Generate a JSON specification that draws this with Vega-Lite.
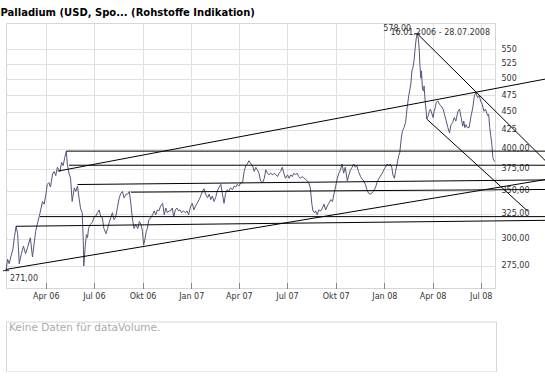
{
  "$schema": "https://vega.github.io/schema/vega-lite/v6.json",
  "padding": {"left": 0, "top": 7, "right": 0, "bottom": 0},
  "autosize": {"type": "pad"},
  "background": "#ffffff",
  "title": {"text": "Palladium (USD, Spo... (Rohstoffe Indikation)", "anchor": "start", "font": "DejaVu Sans", "fontSize": 10, "fontWeight": "bold", "color": "#000000", "offset": 5, "dx": -2},
  "config": {
    "font": "DejaVu Sans",
    "view": {"stroke": "#d6d6d6"},
    "axis": {"labelFont": "DejaVu Sans", "labelFontSize": 8, "labelColor": "#333333", "gridColor": "#e0e0e0", "domain": false, "title": null}
  },
  "datasets": {
    "price": [
      {"d":"2006-01-16","v":271},{"d":"2006-01-19","v":281},{"d":"2006-01-22","v":277},{"d":"2006-01-25","v":283},{"d":"2006-01-29","v":290},{"d":"2006-02-01","v":302},{"d":"2006-02-04","v":312},{"d":"2006-02-07","v":305},{"d":"2006-02-10","v":277},{"d":"2006-02-14","v":286},{"d":"2006-02-18","v":293},{"d":"2006-02-22","v":286},{"d":"2006-02-26","v":292},{"d":"2006-03-03","v":301},{"d":"2006-03-07","v":283},{"d":"2006-03-10","v":295},{"d":"2006-03-13","v":307},{"d":"2006-03-16","v":314},{"d":"2006-03-21","v":325},{"d":"2006-03-26","v":338},{"d":"2006-03-29","v":335},
      {"d":"2006-04-01","v":344},{"d":"2006-04-04","v":357},{"d":"2006-04-07","v":359},{"d":"2006-04-10","v":354},{"d":"2006-04-14","v":369},{"d":"2006-04-17","v":372},{"d":"2006-04-20","v":367},{"d":"2006-04-23","v":377},{"d":"2006-04-28","v":372},{"d":"2006-05-01","v":383},{"d":"2006-05-04","v":379},{"d":"2006-05-07","v":389},{"d":"2006-05-10","v":397},{"d":"2006-05-12","v":380},{"d":"2006-05-15","v":370},{"d":"2006-05-18","v":364},{"d":"2006-05-21","v":338},{"d":"2006-05-25","v":353},{"d":"2006-05-28","v":349},{"d":"2006-05-31","v":355},
      {"d":"2006-06-03","v":342},{"d":"2006-06-06","v":330},{"d":"2006-06-09","v":326},{"d":"2006-06-11","v":298},{"d":"2006-06-12","v":275},{"d":"2006-06-15","v":295},{"d":"2006-06-17","v":304},{"d":"2006-06-19","v":301},{"d":"2006-06-21","v":310},{"d":"2006-06-24","v":314},{"d":"2006-06-28","v":316},{"d":"2006-07-01","v":321},{"d":"2006-07-04","v":322},{"d":"2006-07-08","v":326},{"d":"2006-07-11","v":329},{"d":"2006-07-14","v":322},{"d":"2006-07-17","v":321},{"d":"2006-07-20","v":310},{"d":"2006-07-24","v":305},{"d":"2006-07-27","v":310},{"d":"2006-07-30","v":316},
      {"d":"2006-08-02","v":321},{"d":"2006-08-05","v":326},{"d":"2006-08-08","v":319},{"d":"2006-08-11","v":321},{"d":"2006-08-15","v":333},{"d":"2006-08-18","v":342},{"d":"2006-08-21","v":347},{"d":"2006-08-24","v":349},{"d":"2006-08-27","v":342},{"d":"2006-08-31","v":346},{"d":"2006-09-03","v":346},{"d":"2006-09-06","v":349},{"d":"2006-09-09","v":335},{"d":"2006-09-11","v":324},{"d":"2006-09-13","v":316},{"d":"2006-09-15","v":310},{"d":"2006-09-18","v":314},{"d":"2006-09-22","v":310},{"d":"2006-09-25","v":317},{"d":"2006-09-28","v":314},
      {"d":"2006-10-01","v":307},{"d":"2006-10-03","v":294},{"d":"2006-10-05","v":298},{"d":"2006-10-08","v":307},{"d":"2006-10-10","v":310},{"d":"2006-10-13","v":319},{"d":"2006-10-17","v":321},{"d":"2006-10-20","v":324},{"d":"2006-10-23","v":328},{"d":"2006-10-26","v":324},{"d":"2006-10-29","v":329},{"d":"2006-11-01","v":328},{"d":"2006-11-04","v":333},{"d":"2006-11-08","v":336},{"d":"2006-11-11","v":324},{"d":"2006-11-14","v":331},{"d":"2006-11-17","v":326},{"d":"2006-11-20","v":328},{"d":"2006-11-23","v":328},{"d":"2006-11-26","v":331},{"d":"2006-11-29","v":322},
      {"d":"2006-12-02","v":329},{"d":"2006-12-05","v":331},{"d":"2006-12-08","v":328},{"d":"2006-12-11","v":329},{"d":"2006-12-14","v":326},{"d":"2006-12-17","v":328},{"d":"2006-12-21","v":326},{"d":"2006-12-24","v":328},{"d":"2006-12-27","v":324},{"d":"2006-12-31","v":333},{"d":"2007-01-03","v":336},{"d":"2007-01-06","v":329},{"d":"2007-01-09","v":333},{"d":"2007-01-12","v":336},{"d":"2007-01-16","v":340},{"d":"2007-01-19","v":344},{"d":"2007-01-22","v":349},{"d":"2007-01-25","v":352},{"d":"2007-01-28","v":346},
      {"d":"2007-02-01","v":342},{"d":"2007-02-04","v":346},{"d":"2007-02-07","v":340},{"d":"2007-02-10","v":344},{"d":"2007-02-13","v":338},{"d":"2007-02-16","v":342},{"d":"2007-02-19","v":349},{"d":"2007-02-22","v":353},{"d":"2007-02-26","v":357},{"d":"2007-03-01","v":346},{"d":"2007-03-04","v":336},{"d":"2007-03-07","v":347},{"d":"2007-03-10","v":351},{"d":"2007-03-13","v":349},{"d":"2007-03-16","v":353},{"d":"2007-03-20","v":351},{"d":"2007-03-23","v":355},{"d":"2007-03-26","v":354},{"d":"2007-03-29","v":357},
      {"d":"2007-04-01","v":355},{"d":"2007-04-05","v":359},{"d":"2007-04-08","v":359},{"d":"2007-04-11","v":372},{"d":"2007-04-14","v":379},{"d":"2007-04-17","v":381},{"d":"2007-04-20","v":385},{"d":"2007-04-24","v":381},{"d":"2007-04-27","v":379},{"d":"2007-04-30","v":372},{"d":"2007-05-03","v":377},{"d":"2007-05-06","v":374},{"d":"2007-05-09","v":370},{"d":"2007-05-12","v":361},{"d":"2007-05-16","v":359},{"d":"2007-05-19","v":364},{"d":"2007-05-22","v":374},{"d":"2007-05-25","v":370},{"d":"2007-05-28","v":368},{"d":"2007-05-31","v":370},
      {"d":"2007-06-04","v":368},{"d":"2007-06-07","v":370},{"d":"2007-06-10","v":368},{"d":"2007-06-13","v":366},{"d":"2007-06-16","v":370},{"d":"2007-06-19","v":372},{"d":"2007-06-22","v":377},{"d":"2007-06-25","v":370},{"d":"2007-06-28","v":364},{"d":"2007-07-02","v":368},{"d":"2007-07-05","v":364},{"d":"2007-07-08","v":368},{"d":"2007-07-11","v":366},{"d":"2007-07-14","v":370},{"d":"2007-07-17","v":368},{"d":"2007-07-20","v":370},{"d":"2007-07-23","v":366},{"d":"2007-07-26","v":364},{"d":"2007-07-30","v":366},
      {"d":"2007-08-02","v":364},{"d":"2007-08-05","v":363},{"d":"2007-08-08","v":361},{"d":"2007-08-11","v":359},{"d":"2007-08-14","v":353},{"d":"2007-08-17","v":335},{"d":"2007-08-19","v":328},{"d":"2007-08-22","v":326},{"d":"2007-08-24","v":328},{"d":"2007-08-27","v":324},{"d":"2007-08-30","v":329},{"d":"2007-09-03","v":328},{"d":"2007-09-06","v":331},{"d":"2007-09-09","v":335},{"d":"2007-09-12","v":329},{"d":"2007-09-15","v":333},{"d":"2007-09-18","v":336},{"d":"2007-09-22","v":340},{"d":"2007-09-25","v":338},{"d":"2007-09-28","v":347},
      {"d":"2007-10-01","v":355},{"d":"2007-10-04","v":364},{"d":"2007-10-07","v":370},{"d":"2007-10-10","v":374},{"d":"2007-10-13","v":381},{"d":"2007-10-16","v":370},{"d":"2007-10-19","v":377},{"d":"2007-10-23","v":361},{"d":"2007-10-26","v":368},{"d":"2007-10-29","v":374},{"d":"2007-11-01","v":377},{"d":"2007-11-04","v":381},{"d":"2007-11-07","v":377},{"d":"2007-11-10","v":379},{"d":"2007-11-13","v":372},{"d":"2007-11-17","v":366},{"d":"2007-11-20","v":363},{"d":"2007-11-23","v":361},{"d":"2007-11-26","v":357},{"d":"2007-11-29","v":351},
      {"d":"2007-12-02","v":347},{"d":"2007-12-05","v":346},{"d":"2007-12-08","v":347},{"d":"2007-12-11","v":349},{"d":"2007-12-15","v":353},{"d":"2007-12-18","v":359},{"d":"2007-12-21","v":363},{"d":"2007-12-24","v":366},{"d":"2007-12-28","v":370},{"d":"2007-12-31","v":374},{"d":"2008-01-03","v":377},{"d":"2008-01-06","v":381},{"d":"2008-01-09","v":379},{"d":"2008-01-12","v":381},{"d":"2008-01-15","v":377},{"d":"2008-01-17","v":368},{"d":"2008-01-20","v":364},{"d":"2008-01-22","v":372},{"d":"2008-01-25","v":381},{"d":"2008-01-28","v":391},{"d":"2008-01-30","v":395},
      {"d":"2008-02-02","v":414},{"d":"2008-02-04","v":423},{"d":"2008-02-07","v":428},{"d":"2008-02-10","v":435},{"d":"2008-02-13","v":456},{"d":"2008-02-16","v":474},{"d":"2008-02-20","v":492},{"d":"2008-02-22","v":513},{"d":"2008-02-24","v":519},{"d":"2008-02-26","v":530},{"d":"2008-02-28","v":550},{"d":"2008-03-01","v":568},{"d":"2008-03-03","v":578},{"d":"2008-03-05","v":570},{"d":"2008-03-07","v":547},{"d":"2008-03-08","v":524},{"d":"2008-03-10","v":501},{"d":"2008-03-11","v":513},{"d":"2008-03-13","v":484},{"d":"2008-03-15","v":481},{"d":"2008-03-16","v":489},{"d":"2008-03-18","v":466},{"d":"2008-03-20","v":451},{"d":"2008-03-21","v":440},{"d":"2008-03-24","v":445},{"d":"2008-03-26","v":451},{"d":"2008-03-28","v":454},{"d":"2008-03-31","v":447},
      {"d":"2008-04-02","v":442},{"d":"2008-04-04","v":451},{"d":"2008-04-06","v":456},{"d":"2008-04-08","v":464},{"d":"2008-04-11","v":466},{"d":"2008-04-14","v":461},{"d":"2008-04-17","v":459},{"d":"2008-04-21","v":454},{"d":"2008-04-24","v":445},{"d":"2008-04-27","v":437},{"d":"2008-04-30","v":428},{"d":"2008-05-03","v":421},{"d":"2008-05-06","v":432},{"d":"2008-05-09","v":435},{"d":"2008-05-12","v":442},{"d":"2008-05-15","v":437},{"d":"2008-05-19","v":451},{"d":"2008-05-22","v":454},{"d":"2008-05-25","v":442},{"d":"2008-05-28","v":430},{"d":"2008-05-30","v":437},
      {"d":"2008-06-01","v":428},{"d":"2008-06-03","v":432},{"d":"2008-06-06","v":428},{"d":"2008-06-09","v":428},{"d":"2008-06-13","v":445},{"d":"2008-06-16","v":456},{"d":"2008-06-19","v":474},{"d":"2008-06-22","v":479},{"d":"2008-06-25","v":471},{"d":"2008-06-28","v":474},{"d":"2008-07-01","v":466},{"d":"2008-07-04","v":461},{"d":"2008-07-07","v":451},{"d":"2008-07-10","v":454},{"d":"2008-07-14","v":445},{"d":"2008-07-16","v":447},{"d":"2008-07-18","v":428},{"d":"2008-07-20","v":417},{"d":"2008-07-22","v":406},{"d":"2008-07-24","v":389},{"d":"2008-07-26","v":385},{"d":"2008-07-28","v":384}
    ],
    "trend": [
      {"id":"A","d":"2006-04-24","v":372.4},{"id":"A","d":"2008-11-01","v":500},
      {"id":"B","d":"2006-01-16","v":272},{"id":"B","d":"2008-11-01","v":362.6},
      {"id":"C","d":"2006-05-10","v":397},{"id":"C","d":"2008-11-01","v":397},
      {"id":"D","d":"2006-05-15","v":379.5},{"id":"D","d":"2008-11-01","v":379.5},
      {"id":"E","d":"2006-05-31","v":356.8},{"id":"E","d":"2008-11-01","v":362.1},
      {"id":"F","d":"2006-09-09","v":348.2},{"id":"F","d":"2008-11-01","v":351.2},
      {"id":"G","d":"2006-03-21","v":322},{"id":"G","d":"2008-11-01","v":322},
      {"id":"H","d":"2006-02-04","v":312.2},{"id":"H","d":"2008-11-01","v":318.2},
      {"id":"I","d":"2008-03-03","v":578},{"id":"I","d":"2008-11-01","v":384.5},
      {"id":"J","d":"2008-03-21","v":439.9},{"id":"J","d":"2008-09-28","v":327.6}
    ],
    "extremes": [
      {"kind":"max","d":"2008-03-03","v":578,"label":"578,00"},
      {"kind":"min","d":"2006-01-16","v":271,"label":"271,00"}
    ],
    "volume": [
      {"msg": "Keine Daten für dataVolume."}
    ]
  },
  "vconcat": [
    {
      "width": 489,
      "height": 265,
      "title": {"text": "16.01.2006 - 28.07.2008", "anchor": "end", "frame": "group", "offset": -14, "dx": -5, "font": "DejaVu Sans", "fontSize": 8, "fontWeight": "normal", "color": "#333333"},
      "encoding": {
        "x": {
          "field": "d", "type": "temporal",
          "scale": {"type": "utc", "domain": [{"year": 2006, "month": 1, "date": 16, "utc": true}, {"year": 2008, "month": 7, "date": 28, "utc": true}], "nice": false},
          "axis": {
            "orient": "bottom", "grid": true, "ticks": true, "tickSize": -5, "tickColor": "#333333", "tickDash": [1, 1], "labelPadding": 9,
            "values": [
              {"year": 2006, "month": 4, "date": 1, "utc": true}, {"year": 2006, "month": 7, "date": 1, "utc": true}, {"year": 2006, "month": 10, "date": 1, "utc": true},
              {"year": 2007, "month": 1, "date": 1, "utc": true}, {"year": 2007, "month": 4, "date": 1, "utc": true}, {"year": 2007, "month": 7, "date": 1, "utc": true}, {"year": 2007, "month": 10, "date": 1, "utc": true},
              {"year": 2008, "month": 1, "date": 1, "utc": true}, {"year": 2008, "month": 4, "date": 1, "utc": true}, {"year": 2008, "month": 7, "date": 1, "utc": true}
            ],
            "labelExpr": "(utcmonth(datum.value) == 0 ? 'Jan' : utcmonth(datum.value) == 3 ? 'Apr' : utcmonth(datum.value) == 6 ? 'Jul' : 'Okt') + ' ' + utcFormat(datum.value, '%y')"
          }
        },
        "y": {
          "field": "v", "type": "quantitative",
          "scale": {"type": "log", "domain": [256.3, 598], "nice": false},
          "axis": {
            "orient": "right", "grid": true, "ticks": false, "labelPadding": 6,
            "values": [275, 300, 325, 350, 375, 400, 425, 450, 475, 500, 525, 550],
            "labelExpr": "datum.value <= 400 ? replace(format(datum.value, '.2f'), '.', ',') : format(datum.value, 'd')"
          }
        }
      },
      "layer": [
        {"data": {"name": "price"}, "mark": {"type": "area", "color": "#e9e9fa", "opacity": 0.7}},
        {"data": {"name": "price"}, "mark": {"type": "line", "color": "#535778", "strokeWidth": 1}},
        {"data": {"name": "trend"}, "mark": {"type": "line", "color": "#000000", "strokeWidth": 1, "clip": false}, "encoding": {"detail": {"field": "id"}}},
        {"data": {"name": "extremes"}, "mark": {"type": "tick", "orient": "horizontal", "size": 6, "thickness": 1.2, "color": "#000000", "clip": false}},
        {"data": {"name": "extremes"}, "transform": [{"filter": "datum.kind == 'max'"}], "mark": {"type": "text", "align": "right", "baseline": "bottom", "dx": -6, "dy": -1, "fontSize": 8, "color": "#333333"}, "encoding": {"text": {"field": "label"}}},
        {"data": {"name": "extremes"}, "transform": [{"filter": "datum.kind == 'min'"}], "mark": {"type": "text", "align": "left", "baseline": "top", "dx": 4, "dy": 4, "fontSize": 8, "color": "#333333"}, "encoding": {"text": {"field": "label"}}}
      ]
    },
    {
      "width": 490,
      "height": 50,
      "data": {"name": "volume"},
      "mark": {"type": "text", "align": "left", "baseline": "top", "dx": 3, "dy": 1, "font": "DejaVu Sans", "fontSize": 10.5, "color": "#aaaaaa"},
      "encoding": {
        "x": {"datum": 0, "type": "quantitative", "scale": {"domain": [0, 1]}, "axis": null},
        "y": {"datum": 1, "type": "quantitative", "scale": {"domain": [0, 1]}, "axis": null},
        "text": {"field": "msg"}
      }
    }
  ],
  "spacing": 19.5
}
